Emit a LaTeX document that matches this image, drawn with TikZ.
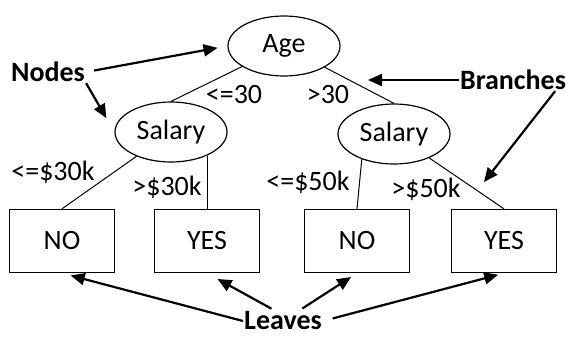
\documentclass[tikz,border=0pt]{standalone}
\usepackage{fontspec}
\setmainfont{Carlito}
\usetikzlibrary{shapes.geometric,arrows.meta}

\begin{document}
\begin{tikzpicture}[x=1pt,y=-1pt,
  font=\fontsize{28}{30}\selectfont,
  test/.style={draw,ellipse,line width=1.2pt,minimum width=112pt,minimum height=60pt,inner sep=0pt},
  leaf/.style={draw,line width=1.4pt,minimum width=105pt,minimum height=63pt},
  branch/.style={line width=1pt},
  lbl/.style={inner sep=1pt},
  tag/.style={font=\fontsize{28}{30}\selectfont\bfseries,inner sep=1pt},
  pointer/.style={line width=2.2pt,-{Triangle[length=14pt,width=12pt]}}]

\useasboundingbox (0,0) rectangle (566,338);

\node[test] (age) at (284,46) {Age};
\node[test] (salL) at (171,132) {Salary};
\node[test] (salR) at (394,134) {Salary};

\node[leaf] (no1) at (62,241) {NO};
\node[leaf] (yes1) at (207,241) {YES};
\node[leaf] (no2) at (357,241) {NO};
\node[leaf] (yes2) at (504,241) {YES};

\node[lbl] (c1) at (234,95) {<=30};
\node[lbl] (c2) at (328,95) {>30};
\node[lbl] (c3) at (53,172) {<=\$30k};
\node[lbl] (c4) at (167,187) {>\$30k};
\node[lbl] (c5) at (308,182) {<=\$50k};
\node[lbl] (c6) at (426,189) {>\$50k};

\draw[branch] (age)--(salL.north);
\draw[branch] (age)--(salR.north);
\draw[branch] (salL)--(no1.north);
\draw[branch] (yes1.north)--(yes1.north |- salL.-33);
\draw[branch] (salR.218)--(no2.north);
\draw[branch] (salR)--(yes2.north);

\node[tag] (tnodes) at (48,72) {Nodes};
\node[tag] (tbranches) at (513,80) {Branches};
\node[tag] (tleaves) at (283,321) {Leaves};

\coordinate (tipA) at (368,80);
\coordinate (tipB) at (484,182);

\draw[pointer,shorten <=8pt,shorten >=10pt] (tnodes.east)--(age.west);
\draw[pointer,shorten >=16pt] (tnodes.south east)--(salL.west);
\draw[pointer] (tbranches.west)--(tipA);
\draw[pointer] ([xshift=-12pt]tbranches.south east)--(tipB);
\draw[pointer,shorten >=9pt] (tleaves.west)--(no1.south);
\draw[pointer,shorten <=4pt,shorten >=12pt] ([xshift=-8pt]tleaves.north)--(yes1.south);
\draw[pointer,shorten <=4pt,shorten >=7pt] ([xshift=16pt]tleaves.north)--(no2.south);
\draw[pointer,shorten <=10pt,shorten >=6pt] (tleaves.east)--(yes2.south);

\end{tikzpicture}
\end{document}
